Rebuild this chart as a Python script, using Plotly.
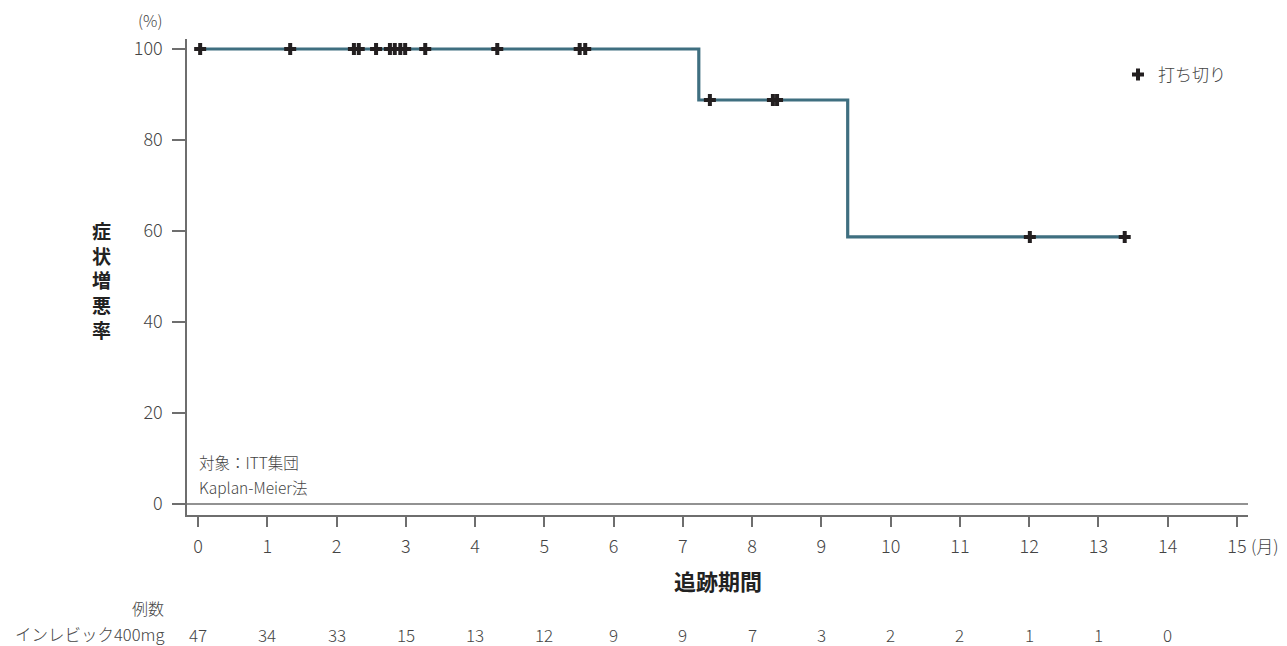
import plotly.graph_objects as go

# Kaplan-Meier step curve (months, %)
km_times = [0, 7.23, 9.38, 13.38]
km_surv = [100, 88.8, 58.7, 58.7]

# Censored observations
censor_times = [0.03, 1.33, 2.25, 2.32, 2.57, 2.77, 2.84, 2.92, 2.99, 3.28, 4.32, 5.51, 5.59,
                7.39, 8.30, 8.36, 12.01, 13.38]
censor_surv = [100, 100, 100, 100, 100, 100, 100, 100, 100, 100, 100, 100, 100,
               88.8, 88.8, 88.8, 58.7, 58.7]

# Number at risk
risk_months = list(range(0, 15))
risk_counts = [47, 34, 33, 15, 13, 12, 9, 9, 7, 3, 2, 2, 1, 1, 0]

x_ticks = list(range(0, 16))
y_ticks = [0, 20, 40, 60, 80, 100]
y_title_chars = ["症", "状", "増", "悪", "率"]

FONT = "Noto Sans CJK JP"
TXT = "#444444"
AX = "#6e6e6e"

fig = go.Figure()
fig.add_trace(go.Scatter(
    x=km_times, y=km_surv, mode="lines", line=dict(color="#3f6f80", width=3.2, shape="hv"),
    showlegend=False, hoverinfo="skip"))
fig.add_trace(go.Scatter(
    x=censor_times, y=censor_surv, mode="markers", name="打ち切り",
    marker=dict(symbol="cross", size=10, color="#231f20", line=dict(width=0)),
    showlegend=True))

L, R, T, B = 187, 39, 39, 131
W, H = 1287, 646
ph = H - T - B

def py(pix):
    return (H - B - pix) / ph

def f(size, color=TXT, weight=300):
    return dict(family=FONT, size=size, color=color, weight=weight)

annotations = []
for m, c in zip(risk_months, risk_counts):
    annotations.append(dict(x=m, y=py(634), xref="x", yref="paper", text=str(c), showarrow=False,
                            font=f(17), xanchor="center", yanchor="middle"))
annotations += [
    dict(x=166, y=py(634), xref="paper", yref="paper", text="インレビック400mg", showarrow=False,
         font=f(16.5), xanchor="right", yanchor="middle"),
    dict(x=166, y=py(608), xref="paper", yref="paper", text="例数", showarrow=False,
         font=f(16), xanchor="right", yanchor="middle"),
    dict(x=(718 - L) / (W - L - R), y=py(580), xref="paper", yref="paper", text="<b>追跡期間</b>",
         showarrow=False, font=f(22, "#222", 700), xanchor="center", yanchor="middle"),
    dict(x=1249, y=py(545), xref="paper", yref="paper", text="(月)", showarrow=False,
         font=f(17), xanchor="left", yanchor="middle"),
    dict(x=136, y=py(20), xref="paper", yref="paper", text="(%)", showarrow=False,
         font=f(16), xanchor="left", yanchor="middle"),
    dict(x=197, y=py(462), xref="paper", yref="paper", text="対象：ITT集団", showarrow=False,
         font=f(15.5), xanchor="left", yanchor="middle"),
    dict(x=197, y=py(487), xref="paper", yref="paper", text="Kaplan-Meier法", showarrow=False,
         font=f(15.5), xanchor="left", yanchor="middle"),
    dict(x=101, y=py(280), xref="paper", yref="paper",
         text="<b>" + "<br>".join(y_title_chars) + "</b>", showarrow=False,
         font=f(19, "#222", 700), xanchor="center", yanchor="middle"),
]
# convert pixel x in paper annotations
for a in annotations:
    if a["xref"] == "paper" and a["x"] > 1:
        a["x"] = (a["x"] - L) / (W - L - R)

fig.update_layout(
    width=W, height=H,
    margin=dict(l=L, r=R, t=T, b=B),
    paper_bgcolor="white", plot_bgcolor="white",
    font=f(16),
    annotations=annotations,
    legend=dict(x=(1118 - L) / (W - L - R), y=py(75), xanchor="left", yanchor="middle",
                bgcolor="rgba(0,0,0,0)", font=f(17),
                itemwidth=30, tracegroupgap=0),
    shapes=[dict(type="line", xref="paper", yref="y", x0=0, x1=1, y0=0, y1=0,
                 line=dict(color=AX, width=1.5), layer="below")],
)
fig.update_xaxes(
    range=[-0.16, 15.16], tickvals=x_ticks, ticktext=[str(v) for v in x_ticks],
    showgrid=False, zeroline=False, showline=True, linecolor=AX, linewidth=1.5,
    ticks="outside", ticklen=10, tickwidth=1.5, tickcolor=AX, ticklabelstandoff=5,
    tickfont=f(18))
fig.update_yaxes(
    range=[-2.4, 102.2], tickvals=y_ticks, showgrid=False, zeroline=False,
    showline=True, linecolor=AX, linewidth=1.5,
    ticks="outside", ticklen=13, tickwidth=1.5, tickcolor=AX, ticklabelstandoff=6,
    tickfont=f(18))

fig.write_html("out.html")
